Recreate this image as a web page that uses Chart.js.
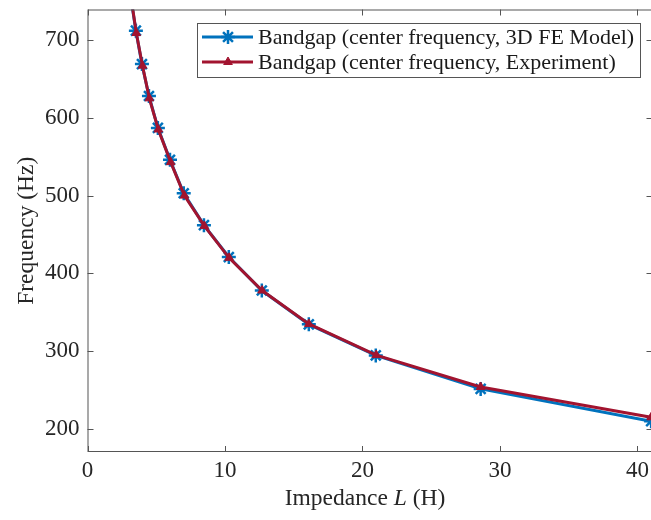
<!DOCTYPE html>
<html>
<head>
<meta charset="utf-8">
<script src="https://cdn.jsdelivr.net/npm/chart.js@4.4.0/dist/chart.umd.min.js"></script>
<style>
  html, body { margin: 0; padding: 0; background: #fff; overflow: hidden; }
  #wrap { width: 662px; height: 520px; }
</style>
</head>
<body>
<div id="wrap"><canvas id="grafico" width="662" height="520"></canvas></div>
<script>
// datos
const impedanciaFEM = [3.0, 3.52, 3.96, 4.47, 5.12, 6.0, 7.0, 8.47, 10.28, 12.68, 16.1, 20.97, 28.6, 41.0];
const frecuenciaFEM = [772, 712, 669, 628, 587, 546, 503, 462, 421, 378, 334.5, 294.6, 251.5, 210];
const impedanciaExp = [3.0, 3.55, 4.0, 4.5, 5.15, 6.05, 7.05, 8.5, 10.3, 12.7, 16.1, 21.0, 28.6, 41.0];
const frecuenciaExp = [774, 709, 667, 625, 585, 543, 500, 461, 420, 378, 335, 295, 254, 215];
const ticksX = [0, 10, 20, 30, 40];
const ticksY = [200, 300, 400, 500, 600, 700];
const etiquetas = [
    "Bandgap (center frequency, 3D FE Model)",
    "Bandgap (center frequency, Experiment)"
];

const azul = "#0072BD";
const rojo = "#A2142F";
const ejeColor = "#555555";
const fuente = "'Liberation Serif', 'Times New Roman', serif";

const pares = (xs, ys) => xs.map((x, i) => ({ x: x, y: ys[i] }));

// marco, ticks hacia dentro, leyenda y titulo del eje x
const marco = {
    id: "marco",
    afterDraw(chart) {
        const ctx = chart.ctx;
        const a = chart.chartArea;
        const sx = chart.scales.x;
        const sy = chart.scales.y;
        const largo = 6;
        ctx.save();
        ctx.strokeStyle = ejeColor;
        ctx.lineWidth = 1;
        ctx.strokeRect(a.left + 0.5, a.top + 0.5, a.right - a.left - 1, a.bottom - a.top - 1);
        ctx.beginPath();
        ticksX.forEach(v => {
            const px = Math.round(sx.getPixelForValue(v)) + 0.5;
            ctx.moveTo(px, a.bottom);
            ctx.lineTo(px, a.bottom - largo);
            ctx.moveTo(px, a.top);
            ctx.lineTo(px, a.top + largo);
        });
        ticksY.forEach(v => {
            const py = Math.round(sy.getPixelForValue(v)) + 0.5;
            ctx.moveTo(a.left, py);
            ctx.lineTo(a.left + largo, py);
            ctx.moveTo(a.right, py);
            ctx.lineTo(a.right - largo, py);
        });
        ctx.stroke();

        // leyenda
        const bx = 197, by = 23, bw = 443, bh = 54;
        ctx.fillStyle = "#fff";
        ctx.fillRect(bx, by, bw, bh);
        ctx.strokeStyle = ejeColor;
        ctx.strokeRect(bx + 0.5, by + 0.5, bw, bh);
        const filas = [37, 62];
        chart.data.datasets.forEach((ds, i) => {
            const y = filas[i];
            ctx.strokeStyle = ds.borderColor;
            ctx.lineWidth = 3;
            ctx.beginPath();
            ctx.moveTo(202, y);
            ctx.lineTo(253, y);
            ctx.stroke();
            ctx.fillStyle = ds.pointBackgroundColor;
            ctx.strokeStyle = ds.pointBorderColor;
            ctx.lineWidth = ds.pointBorderWidth;
            Chart.helpers.drawPoint(ctx, {
                pointStyle: ds.pointStyle,
                radius: ds.pointRadius,
                rotation: 0,
                borderWidth: ds.pointBorderWidth
            }, 228, y);
            ctx.fillStyle = "#1a1a1a";
            ctx.font = "22px " + fuente;
            ctx.textBaseline = "middle";
            ctx.textAlign = "left";
            ctx.fillText(etiquetas[i], 258, y + 1);
        });

        // titulo eje x con L en cursiva
        ctx.fillStyle = "#262626";
        ctx.textBaseline = "middle";
        ctx.textAlign = "left";
        const partes = [["Impedance ", "23.5px "], ["L", "italic 23.5px "], [" (H)", "23.5px "]];
        let total = 0;
        partes.forEach(p => { ctx.font = p[1] + fuente; total += ctx.measureText(p[0]).width; });
        let x = 365 - total / 2;
        partes.forEach(p => {
            ctx.font = p[1] + fuente;
            ctx.fillText(p[0], x, 499);
            x += ctx.measureText(p[0]).width;
        });
        ctx.restore();
    }
};

const sinRelleno = s => {
    s.paddingTop = 0;
    s.paddingBottom = 0;
    s.paddingLeft = 0;
    s.paddingRight = 0;
};

new Chart(document.getElementById("grafico"), {
    type: "line",
    data: {
        datasets: [
            {
                label: etiquetas[0],
                data: pares(impedanciaFEM, frecuenciaFEM),
                borderColor: azul,
                backgroundColor: azul,
                borderWidth: 3,
                pointStyle: "star",
                pointRadius: 7,
                pointBorderWidth: 2.5,
                pointBorderColor: azul,
                pointBackgroundColor: azul,
                tension: 0,
                order: 1
            },
            {
                label: etiquetas[1],
                data: pares(impedanciaExp, frecuenciaExp),
                borderColor: rojo,
                backgroundColor: rojo,
                borderWidth: 3,
                pointStyle: "triangle",
                pointRadius: 5,
                pointBorderWidth: 1,
                pointBorderColor: rojo,
                pointBackgroundColor: rojo,
                tension: 0,
                order: 0
            }
        ]
    },
    options: {
        responsive: false,
        animation: false,
        events: [],
        layout: { padding: { left: 0, top: 9.5, right: 3, bottom: 0 } },
        plugins: {
            legend: { display: false },
            tooltip: { enabled: false }
        },
        scales: {
            x: {
                type: "linear",
                min: 0,
                max: 41.1,
                grid: { display: false, drawTicks: false },
                border: { display: false },
                afterBuildTicks: s => { s.ticks = ticksX.map(v => ({ value: v })); },
                afterFit: s => { s.height = 68; sinRelleno(s); },
                ticks: {
                    padding: 5,
                    color: "#262626",
                    font: { family: fuente, size: 23 },
                    maxRotation: 0
                }
            },
            y: {
                type: "linear",
                min: 170.4,
                max: 739.2,
                grid: { display: false, drawTicks: false },
                border: { display: false },
                afterBuildTicks: s => { s.ticks = ticksY.map(v => ({ value: v })); },
                afterFit: s => { s.width = 87.5; sinRelleno(s); },
                ticks: {
                    padding: 8,
                    color: "#262626",
                    font: { family: fuente, size: 23 }
                },
                title: {
                    display: true,
                    text: "Frequency (Hz)",
                    color: "#262626",
                    font: { family: fuente, size: 23.5 },
                    padding: { top: 13, bottom: 0 }
                }
            }
        }
    },
    plugins: [marco]
});
</script>
</body>
</html>
